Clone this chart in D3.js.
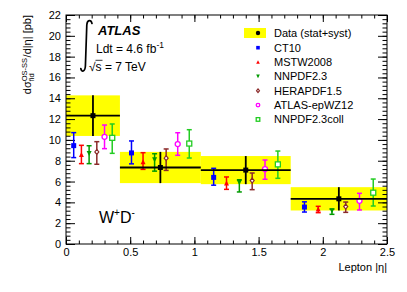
<!DOCTYPE html>
<html><head><meta charset="utf-8">
<script src="https://cdn.jsdelivr.net/npm/d3@7"></script>
<style>
body{margin:0;background:#fff;}
svg{display:block;font-family:"Liberation Sans",Arial,sans-serif;}
</style></head>
<body><svg id="c" width="407" height="292"></svg>
<script>
// ---- data ----
const binEdges = [0, 0.42, 1.05, 1.75, 2.5];
const dataVal = [12.33, 7.35, 7.1, 4.34];
const dataErr = [1.95, 1.5, 1.35, 1.12];
const seriesNames = ["CT10","MSTW2008","NNPDF2.3","HERAPDF1.5","ATLAS-epWZ12","NNPDF2.3coll"];
const ct10Val = [9.45, 8.75, 6.4, 3.55];
const ct10Lo  = [8.3, 7.7, 5.65, 3.07];
const ct10Hi  = [10.7, 9.9, 7.27, 4.05];
const mstwVal = [8.6, 7.9, 5.85, 3.36];
const mstwLo  = [7.72, 7.17, 5.25, 3.01];
const mstwHi  = [9.48, 8.77, 6.44, 3.62];
const nnpdfVal = [8.7, 8.1, 5.9, 3.2];
const nnpdfLo  = [7.72, 7.0, 5.0, 2.85];
const nnpdfHi  = [9.44, 8.67, 6.17, 3.35];
const heraVal = [8.85, 8.25, 6.1, 3.6];
const heraLo  = [7.66, 7.07, 5.22, 3.04];
const heraHi  = [9.83, 9.13, 6.82, 4.03];
const epwzVal = [10.3, 9.6, 7.2, 4.15];
const epwzLo  = [9.16, 8.52, 6.22, 3.27];
const epwzHi  = [11.43, 10.69, 8.07, 4.87];
const collVal = [10.2, 9.65, 7.65, 4.93];
const collLo  = [8.71, 8.26, 6.31, 3.65];
const collHi  = [11.53, 10.98, 8.93, 6.24];
const yTicks = [0,2,4,6,8,10,12,14,16,18,20,22];
const xTicks = [0,0.5,1,1.5,2,2.5];

// ---- styles ----
const styles = [
  {color:"#0000ff", shape:"square", fill:true},
  {color:"#ff0000", shape:"triUp", fill:true},
  {color:"#009a00", shape:"triDown", fill:true},
  {color:"#8b2a2a", shape:"diamond", fill:false},
  {color:"#ff00ff", shape:"circle", fill:false},
  {color:"#22cc22", shape:"square", fill:false}
];
const series = [
  [ct10Val,ct10Lo,ct10Hi],[mstwVal,mstwLo,mstwHi],[nnpdfVal,nnpdfLo,nnpdfHi],
  [heraVal,heraLo,heraHi],[epwzVal,epwzLo,epwzHi],[collVal,collLo,collHi]
];

const svg = d3.select("#c");
const L=66, R=387, T=15, B=244;
const x = d3.scaleLinear().domain([0,2.5]).range([L,R]);
const y = d3.scaleLinear().domain([0,22]).range([B,T]);

// yellow boxes
const nb = dataVal.length;
const bins = d3.range(nb).map(i=>({lo:binEdges[i],hi:binEdges[i+1],v:dataVal[i],e:dataErr[i]}));
svg.append("g").selectAll("rect").data(bins).join("rect")
  .attr("x",d=>x(d.lo)).attr("width",d=>x(d.hi)-x(d.lo))
  .attr("y",d=>y(d.v+d.e)).attr("height",d=>y(d.v-d.e)-y(d.v+d.e))
  .attr("fill","#ffff00");

// axes (ROOT style, inward ticks)
function minorVals(step, max){ return d3.range(0, max+1e-9, step); }
const gAx = svg.append("g");
const yMinor = minorVals(0.4,22);
const xMinor = minorVals(0.1,2.5);
gAx.append("g").attr("transform",`translate(${L},0)`)
  .call(d3.axisLeft(y).tickValues(yMinor).tickSize(-4.5).tickFormat(""));
gAx.append("g").attr("transform",`translate(${L},0)`)
  .call(d3.axisLeft(y).tickValues(yTicks).tickSize(-9).tickPadding(5).tickFormat(d3.format("d")));
gAx.append("g").attr("transform",`translate(${R},0)`)
  .call(d3.axisRight(y).tickValues(yMinor).tickSize(-4.5).tickFormat(""));
gAx.append("g").attr("transform",`translate(${R},0)`)
  .call(d3.axisRight(y).tickValues(yTicks).tickSize(-9).tickFormat(""));
gAx.append("g").attr("transform",`translate(0,${B})`)
  .call(d3.axisBottom(x).tickValues(xMinor).tickSize(-3.5).tickFormat(""));
gAx.append("g").attr("transform",`translate(0,${B})`)
  .call(d3.axisBottom(x).tickValues(xTicks).tickSize(-7).tickPadding(4).tickFormat(d=>d===0?"0":d3.format("")(d)));
gAx.append("g").attr("transform",`translate(0,${T})`)
  .call(d3.axisTop(x).tickValues(xMinor).tickSize(-3.5).tickFormat(""));
gAx.append("g").attr("transform",`translate(0,${T})`)
  .call(d3.axisTop(x).tickValues(xTicks).tickSize(-7).tickFormat(""));
gAx.selectAll("path.domain").remove();
gAx.selectAll("line").attr("stroke","#000").attr("stroke-width",1);
gAx.selectAll("text").attr("font-size",11).attr("font-family","Liberation Sans, Arial, sans-serif").attr("fill","#000");
svg.append("rect").attr("x",L).attr("y",T).attr("width",R-L).attr("height",B-T)
  .attr("fill","none").attr("stroke","#000").attr("stroke-width",1);

// marker drawing
function marker(g, cx, cy, st, s){
  const c = st.color, f = st.fill ? c : "#fff", sw = 1.3;
  if(st.shape==="square"){
    g.append("rect").attr("x",cx-s/2).attr("y",cy-s/2).attr("width",s).attr("height",s)
     .attr("fill",f).attr("stroke",c).attr("stroke-width",st.fill?0:sw);
  } else if(st.shape==="circle"){
    g.append("circle").attr("cx",cx).attr("cy",cy).attr("r",s/2)
     .attr("fill",f).attr("stroke",c).attr("stroke-width",sw);
  } else if(st.shape==="triUp"){
    g.append("path").attr("d",`M${cx-s/2},${cy+s/2}L${cx+s/2},${cy+s/2}L${cx},${cy-s/2}Z`).attr("fill",c);
  } else if(st.shape==="triDown"){
    g.append("path").attr("d",`M${cx-s/2},${cy-s/2}L${cx+s/2},${cy-s/2}L${cx},${cy+s/2}Z`).attr("fill",c);
  } else if(st.shape==="diamond"){
    const h=s/2;
    g.append("path").attr("d",`M${cx},${cy-h}L${cx+h*0.8},${cy}L${cx},${cy+h}L${cx-h*0.8},${cy}Z`)
     .attr("fill","#fff").attr("stroke",c).attr("stroke-width",1.2);
  }
}

// theory points
const gT = svg.append("g");
series.forEach((sr,k)=>{
  const st = styles[k];
  const pts = d3.range(nb).map(i=>({
    xv: binEdges[i] + (binEdges[i+1]-binEdges[i])*(k+1)/7,
    v: sr[0][i], lo: sr[1][i], hi: sr[2][i]}));
  const g = gT.append("g");
  g.selectAll("line.v").data(pts).join("line").attr("class","v")
    .attr("x1",d=>x(d.xv)).attr("x2",d=>x(d.xv)).attr("y1",d=>y(d.lo)).attr("y2",d=>y(d.hi))
    .attr("stroke",st.color).attr("stroke-width",1.5);
  ["lo","hi"].forEach(key=>{
    g.selectAll("line.c"+key).data(pts).join("line").attr("class","c"+key)
      .attr("x1",d=>x(d.xv)-2.5).attr("x2",d=>x(d.xv)+2.5).attr("y1",d=>y(d[key])).attr("y2",d=>y(d[key]))
      .attr("stroke",st.color).attr("stroke-width",1.5);
  });
  pts.forEach(d=>marker(g, x(d.xv), y(d.v), st, 5));
});

// data points
const gD = svg.append("g");
gD.selectAll("line.h").data(bins).join("line")
  .attr("x1",d=>x(d.lo)).attr("x2",d=>x(d.hi)).attr("y1",d=>y(d.v)).attr("y2",d=>y(d.v))
  .attr("stroke","#000").attr("stroke-width",1.8);
gD.selectAll("line.v").data(bins).join("line")
  .attr("x1",d=>x((d.lo+d.hi)/2)).attr("x2",d=>x((d.lo+d.hi)/2)).attr("y1",d=>y(d.v-d.e)).attr("y2",d=>y(d.v+d.e))
  .attr("stroke","#000").attr("stroke-width",1.8);
gD.selectAll("rect").data(bins).join("rect")
  .attr("x",d=>x((d.lo+d.hi)/2)-2.5).attr("y",d=>y(d.v)-2.5).attr("width",5).attr("height",5).attr("fill","#000");

// legend
const gL = svg.append("g");
gL.append("rect").attr("x",244).attr("y",28).attr("width",22).attr("height",10).attr("fill","#ffff00");
gL.append("circle").attr("cx",258).attr("cy",33).attr("r",2.2).attr("fill","#000");
gL.append("text").attr("x",274).attr("y",36.8).attr("font-size",11).text("Data (stat+syst)");
seriesNames.forEach((nm,k)=>{
  const yy = 47.7 + k*14.35;
  marker(gL, 258, yy, styles[k], 3.6);
  gL.append("text").attr("x",274).attr("y",yy+4).attr("font-size",11).text(nm);
});

// ATLAS label
// integral sign drawn as a path
svg.append("path")
  .attr("d","M92,23.5 C91,19.5 87.2,19.5 86.8,25 L85.4,66 C85,72 81.5,72.5 80.8,68.5")
  .attr("fill","none").attr("stroke","#000").attr("stroke-width",1.7).attr("stroke-linecap","round");
svg.append("text").attr("x",98).attr("y",34.5).attr("font-size",13).attr("font-weight","bold").attr("font-style","italic").text("ATLAS");
const ldt = svg.append("text").attr("x",96).attr("y",53).attr("font-size",12);
ldt.append("tspan").text("Ldt = 4.6 fb");
ldt.append("tspan").attr("font-size",8.5).attr("dy",-5).text("-1");
const sq = svg.append("text").attr("x",89).attr("y",70.5).attr("font-size",12);
sq.append("tspan").text("\u221A");
sq.append("tspan").text("s = 7 TeV");
svg.append("line").attr("x1",95.5).attr("x2",102.5).attr("y1",60.3).attr("y2",60.3).attr("stroke","#000").attr("stroke-width",0.8);

// W+D- label
const wd = svg.append("text").attr("x",99).attr("y",223).attr("font-size",16);
wd.append("tspan").text("W");
wd.append("tspan").attr("font-size",10).attr("dy",-7).text("+");
wd.append("tspan").attr("dy",7).text("D");
wd.append("tspan").attr("font-size",10).attr("dy",-7).text("-");

// x title
svg.append("text").attr("x",387).attr("y",271).attr("text-anchor","end").attr("font-size",11).text("Lepton |\u03B7|");

// y title (rotated), built left-to-right then right-aligned to the frame top
const gy = svg.append("g").attr("transform",`translate(31,${T}) rotate(-90)`);
const inner = gy.append("g");
const t1 = inner.append("text").attr("x",0).attr("y",0).attr("font-size",11).text("d\u03C3");
const w1 = t1.node().getComputedTextLength();
const tsup = inner.append("text").attr("x",w1).attr("y",-4.5).attr("font-size",7.5).text("OS-SS");
const tsub = inner.append("text").attr("x",w1).attr("y",3).attr("font-size",7.5).text("fid");
const w2 = Math.max(tsup.node().getComputedTextLength(), tsub.node().getComputedTextLength());
const t3 = inner.append("text").attr("x",w1+w2+0.5).attr("y",0).attr("font-size",11).text("/d|\u03B7| [pb]");
const total = w1+w2+0.5+t3.node().getComputedTextLength();
inner.attr("transform",`translate(${-total},0)`);
</script></body></html>
